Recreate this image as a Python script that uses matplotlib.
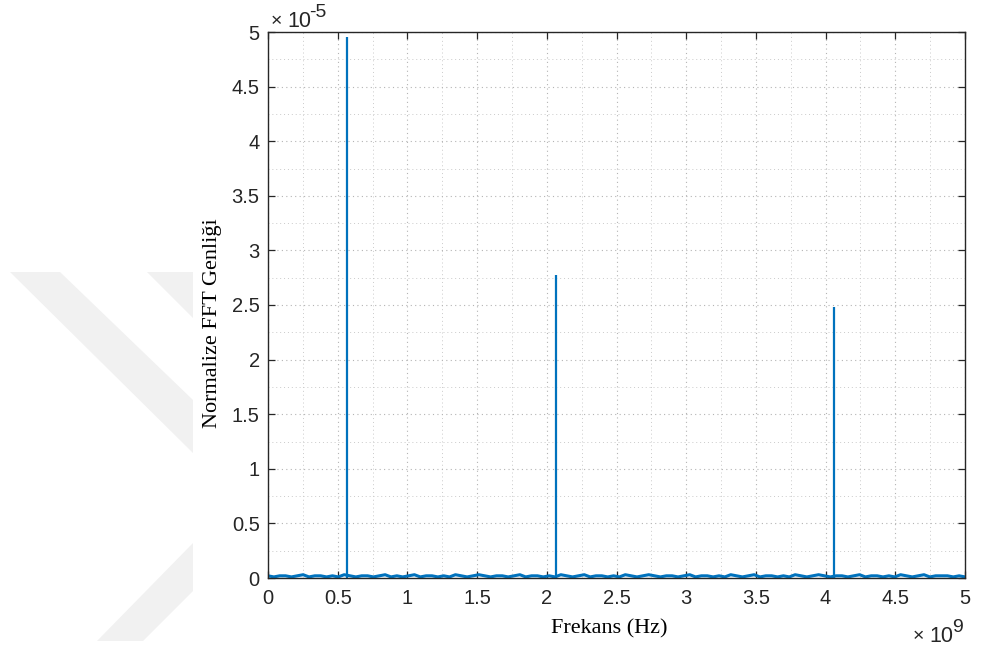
import matplotlib
matplotlib.use("Agg")
import matplotlib.pyplot as plt
import numpy as np
from matplotlib.patches import Polygon
from matplotlib.ticker import MultipleLocator

# spektrum verisi (genlik birimi 1e-5, frekans birimi 1e9 Hz)
tepe_frekans = [0.567, 2.066, 4.06]
tepe_genlik = [4.95, 2.775, 2.48]

taban_genlik = [
    0.02, 0.01, 0.02, 0.02, 0.01, 0.02, 0.03, 0.01, 0.02, 0.02,
    0.01, 0.02, 0.01, 0.03, 0.02, 0.01, 0.02, 0.02, 0.01, 0.02,
    0.03, 0.01, 0.02, 0.01, 0.02, 0.03, 0.01, 0.02, 0.02, 0.01,
    0.02, 0.01, 0.03, 0.02, 0.01, 0.02, 0.03, 0.02, 0.01, 0.02,
    0.02, 0.01, 0.02, 0.03, 0.01, 0.02, 0.02, 0.01, 0.02, 0.01,
    0.03, 0.02, 0.01, 0.02, 0.03, 0.01, 0.02, 0.02, 0.01, 0.02,
    0.01, 0.03, 0.02, 0.01, 0.02, 0.03, 0.02, 0.01, 0.02, 0.02,
    0.01, 0.02, 0.03, 0.01, 0.02, 0.02, 0.01, 0.02, 0.01, 0.03,
    0.02, 0.01, 0.02, 0.03, 0.01, 0.02, 0.02, 0.01, 0.02, 0.01,
    0.03, 0.02, 0.01, 0.02, 0.03, 0.02, 0.01, 0.02, 0.02, 0.01,
    0.02, 0.03, 0.01, 0.02, 0.02, 0.01, 0.02, 0.01, 0.03, 0.02,
    0.01, 0.02, 0.03, 0.01, 0.02, 0.02, 0.02, 0.01, 0.02, 0.01,
]

tik_etiket = ["0", "0.5", "1", "1.5", "2", "2.5", "3", "3.5", "4", "4.5", "5"]
x_etiket = "Frekans (Hz)"
y_etiket = "Normalize FFT Genliği"

MAVI = "#0072BD"
GRI = "#262626"

W, H = 992.0, 648.0
fig = plt.figure(figsize=(W / 100, H / 100), dpi=100)


def fx(px, py):
    # piksel (ustten) -> sekil kesri
    return px / W, 1 - py / H


# arka plandaki soluk filigran
for poli in [
    [(10, 272), (60, 272), (193, 400), (193, 453)],
    [(147, 272), (193, 272), (193, 318)],
    [(97, 641), (143, 641), (193, 591), (193, 543)],
]:
    fig.add_artist(Polygon([fx(*p) for p in poli], closed=True,
                           transform=fig.transFigure, facecolor="#f1f1f1",
                           edgecolor="none", zorder=0))

ax = fig.add_axes([268 / W, 1 - 578 / H, (965 - 268) / W, (578 - 32) / H])

frek = np.linspace(0, 5, len(taban_genlik))
ax.plot(frek, taban_genlik, color=MAVI, lw=2.2)
ax.vlines(tepe_frekans, 0, tepe_genlik, color=MAVI, lw=1.6)

ax.set_xlim(0, 5)
ax.set_ylim(0, 5)
ax.set_xticks(np.arange(0, 5.01, 0.5))
ax.set_yticks(np.arange(0, 5.01, 0.5))
ax.set_xticklabels(tik_etiket)
ax.set_yticklabels(tik_etiket)
ax.xaxis.set_minor_locator(MultipleLocator(0.25))
ax.yaxis.set_minor_locator(MultipleLocator(0.25))

ax.grid(which="major", color="#b4b4b4", ls=(0, (1, 3)), lw=0.8)
ax.grid(which="minor", color="#cacaca", ls=(0, (1, 3)), lw=0.7)
ax.set_axisbelow(True)

ax.tick_params(which="both", direction="in", top=True, right=True,
               colors=GRI, labelcolor=GRI, labelsize=14.5)
ax.tick_params(which="major", length=5, width=0.9)
ax.tick_params(which="minor", length=0)
ax.tick_params(axis="x", pad=8)
ax.tick_params(axis="y", pad=6)
for lab in ax.get_xticklabels() + ax.get_yticklabels():
    lab.set_family("Liberation Sans")
for sp in ax.spines.values():
    sp.set_color(GRI)
    sp.set_linewidth(1.0)

fig.text(*fx(609, 629), x_etiket, family="Liberation Serif", fontsize=16,
         color="black", ha="center", va="center")
fig.text(*fx(213, 323), y_etiket, family="Liberation Serif", fontsize=16,
         color="black", ha="center", va="center", rotation=90)

# MATLAB tarzi us etiketleri
us = dict(color=GRI, family="Liberation Sans", ha="left", va="baseline")
fig.text(*fx(271, 26), "\u00d7", fontsize=14, **us)
fig.text(*fx(287, 27), "10", fontsize=15.5, **us)
fig.text(*fx(309, 17), "-5", fontsize=14, **us)
fig.text(*fx(913, 641), "\u00d7", fontsize=14, **us)
fig.text(*fx(929, 642), "10", fontsize=15.5, **us)
fig.text(*fx(952, 632), "9", fontsize=14, **us)

fig.savefig("out.png", dpi=100)
